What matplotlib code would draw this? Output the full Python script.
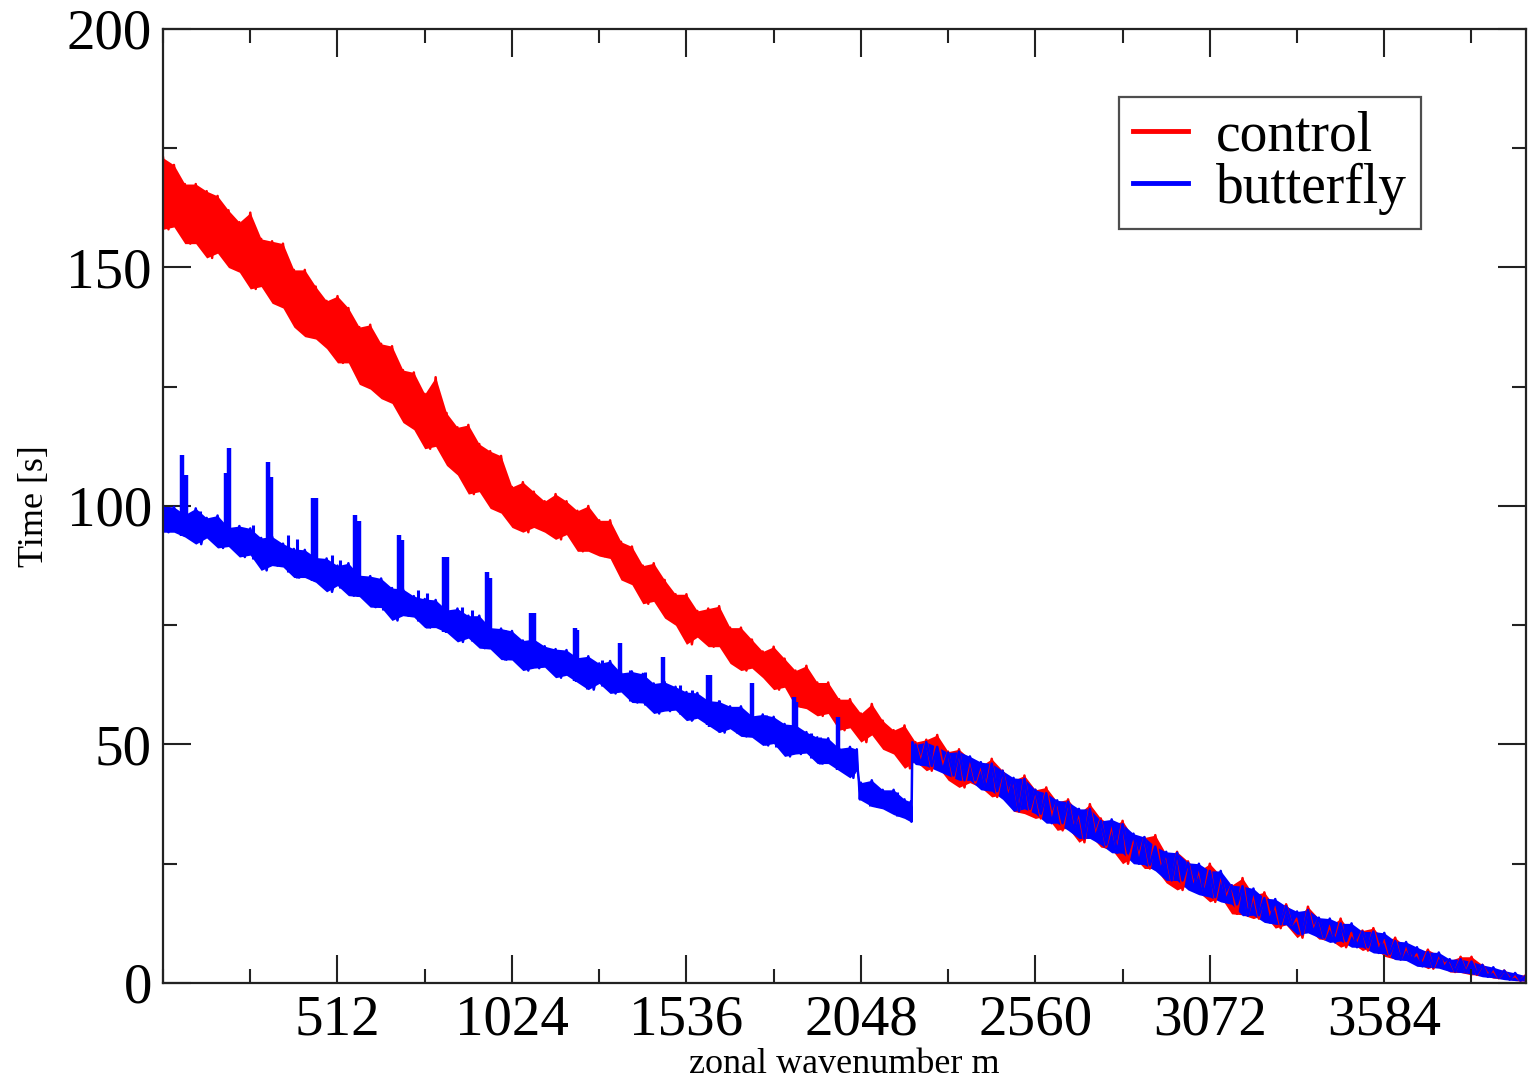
import numpy as np
import matplotlib
matplotlib.use("Agg")
import matplotlib.pyplot as plt
from matplotlib.ticker import MultipleLocator, FixedLocator

plt.rcParams['font.family'] = ['Liberation Serif', 'DejaVu Serif']

# %% Data (band min / max per 32-wide bin of m)
red_m = np.arange(0, 4001, 32)
red_hi = [173, 171.5, 167.5, 167.5, 166, 165, 162, 159.5, 161.5, 156,
          155.5, 155, 149.5, 149.5, 146, 143, 144, 141.5, 137.5, 138,
          134, 133.5, 128.5, 128, 123.5, 127, 119.5, 116.5, 117, 113,
          111.5, 110.5, 104, 105, 103, 101, 102.5, 101, 99, 100,
          97, 97, 92.5, 91.5, 87.5, 88, 84.5, 81.5, 81.5, 78,
          78.5, 79, 74.5, 74.5, 72, 69.5, 70.5, 68, 65.5, 66.5,
          63, 63, 59.5, 59.5, 56.5, 58.5, 55, 53, 54, 50.5,
          51, 52, 48.5, 49, 47, 45.5, 47, 44.5, 42.5, 43.5,
          40.5, 41, 38, 38.5, 35.5, 37.5, 34.5, 33, 34, 30.5,
          30.5, 31, 27, 27.5, 25.5, 23.5, 25, 22.5, 20.5, 22,
          18.5, 19, 16, 16.5, 13.5, 16, 13.5, 12, 13.5, 10.5,
          11, 11.5, 9, 9.5, 7.5, 6, 7, 5.8, 4.7, 5.5,
          5.5, 3.8, 2.6, 2.6, 1.5, 1.7]
red_lo = [158, 158.5, 155, 155, 152, 153, 150, 149, 145.5, 146,
          142.5, 141.5, 137.5, 135.5, 135, 133, 130, 130, 125.5, 124.5,
          122.5, 121.5, 117.5, 116, 112, 112.5, 108.5, 106.5, 102.5, 103,
          99.5, 98.5, 95.5, 94.5, 95.5, 94.5, 93, 94, 90.5, 90.5,
          89.5, 89, 84.5, 83.5, 79.5, 80, 76.5, 75, 71, 72.5,
          70.5, 70.5, 67, 65.5, 66, 64, 61.5, 62, 58, 57.5,
          56, 56.5, 53, 53.5, 50.5, 52, 49, 48, 45, 46.5,
          44.5, 45.5, 42.5, 41, 42, 41, 39, 39.5, 36, 35.5,
          34.5, 35, 32, 32.5, 29.5, 31, 28.5, 28, 25, 26.5,
          24, 24, 21, 19.5, 20.5, 19, 17, 18, 14.5, 14.3,
          13.5, 14.3, 11.5, 12.2, 9.5, 11.3, 9.2, 9.1, 7.5, 8.4,
          6.8, 7.7, 5.6, 5, 5.3, 4.2, 3, 3.9, 2.3, 2.2,
          1.7, 1.8, 1, 1, 0.5, 0.4]

blue_m = np.concatenate([np.arange(0, 2040, 32), [2036, 2042],
                         np.arange(2048, 2197, 32), [2194, 2199],
                         np.arange(2208, 4001, 32)])
blue_hi = [100, 99.8, 98.2, 99.5, 97.5, 98, 95.5, 95.8, 95.3, 93.3,
           93.6, 92.1, 91, 90.8, 89.2, 89, 87.5, 88, 85.5, 85.3,
           84.8, 82.8, 82.6, 81.1, 80.5, 80.3, 78.2, 78.5, 77, 77,
           74.5, 74.3, 73.8, 71.8, 72.1, 70.6, 70, 69.8, 68.2, 68.5,
           67, 67.5, 65, 65.3, 64.8, 62.8, 63.1, 62.1, 61, 60.8,
           59.2, 59, 58, 58, 56, 56.3, 55.8, 54.3, 54.1, 52.6,
           51.5, 51.3, 49.2, 49.5,
           49, 42.5,
           42, 42.5, 40.5, 40.5, 38.5,
           38, 50.5,
           50, 50.5, 49.5, 48.3, 48.5, 47.5, 46.3, 46, 44.5, 43,
           42.8, 40.5, 39.8, 38.3, 38, 36.5, 36.5, 34, 34.3, 33.3,
           31.3, 30.6, 28.6, 27.5, 27.3, 25.2, 25, 23.5, 23.5, 20.5,
           20.3, 19.8, 17.8, 17.6, 16.1, 15, 15.3, 13.7, 13.5, 12.5,
           12.5, 10.8, 10.8, 10.5, 8.8, 8.6, 7.5, 6.5, 6.4, 5,
           5, 4.5, 3.8, 3.3, 2.6, 2.1, 1.5]
blue_lo = [94.5, 94.5, 93.5, 92, 93.3, 91.2, 91.5, 89.3, 89.7, 86.5,
           87.5, 87.2, 85, 85, 84, 82, 83.3, 81.2, 81, 78.8,
           78.7, 76, 77, 76.7, 74.5, 74.5, 73.5, 71.5, 72.3, 70.2,
           70, 67.8, 67.7, 65.5, 66, 66.2, 64, 64.5, 63, 61.5,
           62.8, 60.7, 61, 58.8, 58.7, 56.5, 57, 57.2, 55, 55.5,
           54, 52.5, 53.3, 51.7, 51.5, 49.8, 50.2, 47.5, 48, 48.2,
           46, 46, 44.5, 43,
           44.5, 38.5,
           38.3, 37, 36.5, 35.3, 34.5,
           33.8, 46.5,
           45.8, 45.5, 44.5, 43.5, 42.5, 42.5, 40.5, 40.2, 38.5, 36,
           36.5, 35.5, 33.5, 33.5, 32, 30.3, 30.3, 29, 27.3, 27.2,
           25, 24.8, 23.5, 21.5, 21.5, 19.5, 18.5, 18, 17, 16.5,
           14.1, 14.2, 12.7, 12.3, 12.2, 10.2, 10.5, 9.5, 8.5, 8.8,
           7.5, 7.5, 6.3, 6.1, 4.9, 4.7, 3.5, 3.3, 3.1, 2.4,
           2.2, 1.9, 1.3, 1.1, 0.7, 0.5, 0.4]

# periodic spikes in the butterfly timings
spike_m = [56, 66, 186, 194, 308, 318, 440, 448, 564, 574, 692, 702,
           826, 834, 952, 960, 1080, 1088, 1208, 1216, 1340, 1468,
           1598, 1606, 1728, 1852, 1858, 1982]
spike_top = [110.7, 106.5, 107, 112.2, 109.2, 106, 101.7, 101.7, 98.1, 96.9,
             93.9, 92.9, 89.3, 89.3, 86.2, 85, 77.6, 77.6, 74.4, 74,
             71.3, 68.3, 64.6, 64.6, 62.9, 60, 59, 55.8]
bump_m = [108, 235, 264, 367, 393, 496, 519, 622, 645, 748, 774, 877, 906,
          1003, 1243, 1287, 1370, 1413, 1516, 1551, 1633, 1683, 1771, 1800,
          1903, 1927, 2029, 2075, 2155]
bump_top = [99, 95.4, 96, 94, 93, 89.7, 88.7, 85, 84, 82.4, 81.7, 78.8, 78.2,
            74, 68, 67.7, 65.6, 65.2, 62.5, 61.4, 59.3, 57.6, 56.2, 55,
            52.4, 51.6, 48.4, 42, 40]

ytick_vals = [0, 50, 100, 150, 200]
xtick_vals = [512, 1024, 1536, 2048, 2560, 3072, 3584]


def zigzag(m, hi, lo):
    # alternate max / min of each bin to mimic the dense noisy trace
    m = np.asarray(m, dtype=float)
    mid = np.append((m[:-1] + m[1:]) / 2, m[-1])
    zx = np.ravel(np.column_stack([m, mid]))
    zy = np.ravel(np.column_stack([hi, lo]))
    return zx, zy


# %% Plot
fig = plt.figure(figsize=(15.28, 10.82), dpi=100)
ax = fig.add_axes([0.1067, 0.0915, 0.892, 0.8817])

ax.fill_between(red_m, red_lo, red_hi, color='red', lw=0)
zx, zy = zigzag(red_m, red_hi, red_lo)
ax.plot(zx, zy, color='red', lw=1.8)

ax.fill_between(blue_m, blue_lo, blue_hi, color='blue', lw=0)
zx, zy = zigzag(blue_m, blue_hi, blue_lo)
ax.plot(zx, zy, color='blue', lw=1.8)
ax.vlines(spike_m, np.interp(spike_m, blue_m, blue_lo), spike_top,
          color='blue', lw=3.2)
ax.vlines(bump_m, np.interp(bump_m, blue_m, blue_lo), bump_top,
          color='blue', lw=2.2)

# legend proxies
ax.plot([], [], color='red', lw=3.5, label='control')
ax.plot([], [], color='blue', lw=3.5, label='butterfly')

ax.set_xlim(0, 4000)
ax.set_ylim(0, 200)
ax.xaxis.set_major_locator(FixedLocator(xtick_vals))
ax.xaxis.set_minor_locator(MultipleLocator(256))
ax.yaxis.set_major_locator(FixedLocator(ytick_vals))
ax.yaxis.set_minor_locator(MultipleLocator(25))
ax.tick_params(which='both', direction='in', top=True, right=True,
               width=1.5, color='#222222', labelsize=41, pad=8)
ax.tick_params(which='major', length=20)
ax.tick_params(which='minor', length=10)
for sp in ax.spines.values():
    sp.set_linewidth(1.6)
    sp.set_color('#222222')

ax.set_xlabel('zonal wavenumber m', fontsize=26)
ax.set_ylabel('Time [s]', fontsize=26)
ax.xaxis.set_label_coords(0.5, -0.068)
ax.yaxis.set_label_coords(-0.082, 0.5)

leg = ax.legend(loc='upper right', bbox_to_anchor=(0.923, 0.929),
                fontsize=40, frameon=True, fancybox=False, borderaxespad=0,
                handlelength=1.0, handletextpad=0.5, labelspacing=0.0,
                borderpad=0.25)
leg.get_frame().set_edgecolor('#222222')
leg.get_frame().set_linewidth(1.6)

fig.savefig('out.png', dpi=100)
